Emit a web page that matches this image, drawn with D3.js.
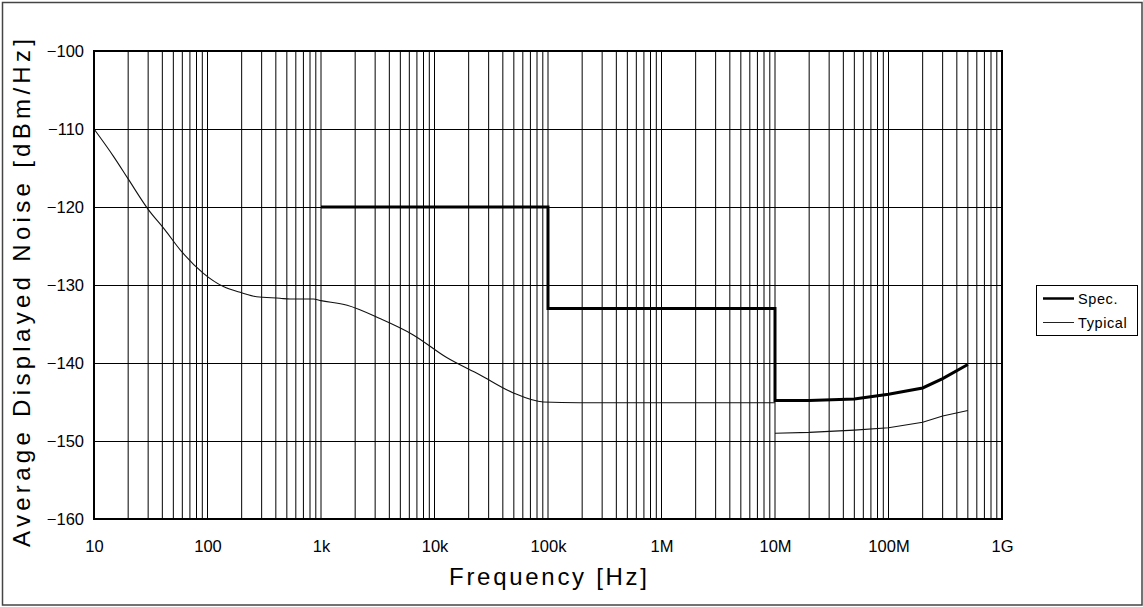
<!DOCTYPE html>
<html>
<head>
<meta charset="utf-8">
<script src="https://cdn.jsdelivr.net/npm/d3@7"></script>
<style>
  body { margin: 0; background: #fff; }
  svg { display: block; font-family: "Liberation Sans", Arial, sans-serif; }
</style>
</head>
<body>
<div id="chart"></div>
<script>
var tickFreqs = [1e1, 1e2, 1e3, 1e4, 1e5, 1e6, 1e7, 1e8, 1e9];
var tickLabels = ["10", "100", "1k", "10k", "100k", "1M", "10M", "100M", "1G"];
var dbTicks = [-100, -110, -120, -130, -140, -150, -160];

// Spec limit (stepped)
var specFreq = [1e3, 1e5, 1e5, 1e7, 1e7, 2e7, 5e7, 1e8, 2e8, 3e8, 5e8];
var specDb = [-120, -120, -133, -133, -144.8, -144.8, -144.6, -144.0, -143.2, -142.0, -140.2];

// Typical, below 10 MHz
var typLowFreq = [10, 15, 20, 30, 42, 59, 92, 138, 200, 271, 435, 533, 855, 1000, 1700, 3300, 6500, 12800, 25000, 49000, 91000, 1.9e5, 1e7];
var typLowDb = [-110, -113.6, -116.4, -120.3, -122.9, -125.7, -128.5, -130.2, -131.0, -131.5, -131.7, -131.8, -131.8, -132.0, -132.6, -134.3, -136.4, -139.3, -141.5, -143.8, -145.0, -145.1, -145.1];

// Typical, 10 MHz and up
var typHighFreq = [1e7, 2e7, 5e7, 1e8, 2e8, 3e8, 5e8];
var typHighDb = [-149.0, -148.9, -148.6, -148.3, -147.6, -146.8, -146.1];

var legendNames = ["Spec.", "Typical"];

var width = 1143, height = 607;
var plot = { left: 94, right: 1002, top: 51, bottom: 519 };

var svg = d3.select("#chart").append("svg")
    .attr("width", width)
    .attr("height", height);

// outer frame
svg.append("rect")
    .attr("x", 2.5)
    .attr("y", 2.5)
    .attr("width", 1139.5)
    .attr("height", 602.5)
    .style("fill", "#fff")
    .style("stroke", "#444")
    .style("stroke-width", 1.5);

var x = d3.scaleLog()
    .domain([10, 1e9])
    .range([plot.left, plot.right]);

var y = d3.scaleLinear()
    .domain([-160, -100])
    .range([plot.bottom, plot.top]);

// minor + major vertical grid
var vLines = [];
for (var dec = 1; dec < 9; dec++) {
  for (var m = 1; m < 10; m++) {
    if (dec === 1 && m === 1) continue;
    vLines.push(m * Math.pow(10, dec));
  }
}

var grid = svg.append("g").attr("class", "grid");

grid.selectAll(".vgrid")
    .data(vLines)
  .enter().append("line")
    .attr("class", "vgrid")
    .attr("x1", function(d) { return x(d); })
    .attr("x2", function(d) { return x(d); })
    .attr("y1", plot.top)
    .attr("y2", plot.bottom)
    .style("stroke", "#000")
    .style("stroke-width", 1);

grid.selectAll(".hgrid")
    .data(dbTicks.filter(function(d) { return d > -160 && d < -100; }))
  .enter().append("line")
    .attr("class", "hgrid")
    .attr("x1", plot.left)
    .attr("x2", plot.right)
    .attr("y1", function(d) { return y(d); })
    .attr("y2", function(d) { return y(d); })
    .attr("shape-rendering", "crispEdges")
    .style("stroke", "#000")
    .style("stroke-width", 1);

// series
function zip(fs, vs) {
  return fs.map(function(f, i) { return [f, vs[i]]; });
}

var line = d3.line()
    .x(function(d) { return x(d[0]); })
    .y(function(d) { return y(d[1]); });

var smooth = d3.line()
    .curve(d3.curveMonotoneX)
    .x(function(d) { return x(d[0]); })
    .y(function(d) { return y(d[1]); });

svg.append("path")
    .datum(zip(typLowFreq, typLowDb))
    .attr("d", smooth)
    .style("fill", "none")
    .style("stroke", "#111")
    .style("stroke-width", 1.1);

svg.append("path")
    .datum(zip(typHighFreq, typHighDb))
    .attr("d", line)
    .style("fill", "none")
    .style("stroke", "#111")
    .style("stroke-width", 1.1);

svg.append("path")
    .datum(zip(specFreq, specDb))
    .attr("d", line)
    .style("fill", "none")
    .style("stroke", "#000")
    .style("stroke-width", 3)
    .style("stroke-linejoin", "miter");

// plot border
svg.append("rect")
    .attr("x", plot.left)
    .attr("y", plot.top)
    .attr("width", plot.right - plot.left)
    .attr("height", plot.bottom - plot.top)
    .style("fill", "none")
    .style("stroke", "#000")
    .style("stroke-width", 2);

// axes (labels only)
svg.append("g")
    .attr("transform", "translate(" + plot.left + ",0)")
    .call(d3.axisLeft(y).tickValues(dbTicks).tickSize(0).tickPadding(10));

svg.append("g")
    .attr("transform", "translate(0," + plot.bottom + ")")
    .call(d3.axisBottom(x).tickValues(tickFreqs).tickSize(0).tickPadding(21)
      .tickFormat(function(d, i) { return tickLabels[i]; }));

svg.selectAll(".domain").remove();
svg.selectAll(".tick text")
    .style("font-family", "'Liberation Sans', Arial, sans-serif")
    .style("font-size", "16.5px")
    .style("fill", "#000");

// titles
svg.append("text")
    .attr("x", 548)
    .attr("y", 585)
    .attr("text-anchor", "middle")
    .attr("textLength", 198)
    .attr("lengthAdjust", "spacing")
    .style("font-size", "24px")
    .style("fill", "#000")
    .text("Frequency [Hz]");

svg.append("text")
    .attr("transform", "translate(30,293) rotate(-90)")
    .attr("text-anchor", "middle")
    .attr("textLength", 508)
    .attr("lengthAdjust", "spacing")
    .style("font-size", "24px")
    .style("fill", "#000")
    .text("Average Displayed Noise [dBm/Hz]");

// legend
var legend = svg.append("g").attr("class", "legend");

legend.append("rect")
    .attr("x", 1036.5)
    .attr("y", 285.5)
    .attr("width", 101)
    .attr("height", 50)
    .style("fill", "#fff")
    .style("stroke", "#000")
    .style("stroke-width", 1);

var item = legend.selectAll(".item")
    .data(legendNames)
  .enter().append("g")
    .attr("class", "item")
    .attr("transform", function(d, i) { return "translate(0," + (298.5 + i * 24) + ")"; });

item.append("line")
    .attr("x1", 1043)
    .attr("x2", 1074)
    .style("stroke", function(d, i) { return i === 0 ? "#000" : "#222"; })
    .style("stroke-width", function(d, i) { return i === 0 ? 2.5 : 1; });

item.append("text")
    .attr("x", 1078)
    .attr("y", 5)
    .style("font-size", "14.5px")
    .style("letter-spacing", "0.6px")
    .style("fill", "#000")
    .text(function(d) { return d; });
</script>
</body>
</html>
